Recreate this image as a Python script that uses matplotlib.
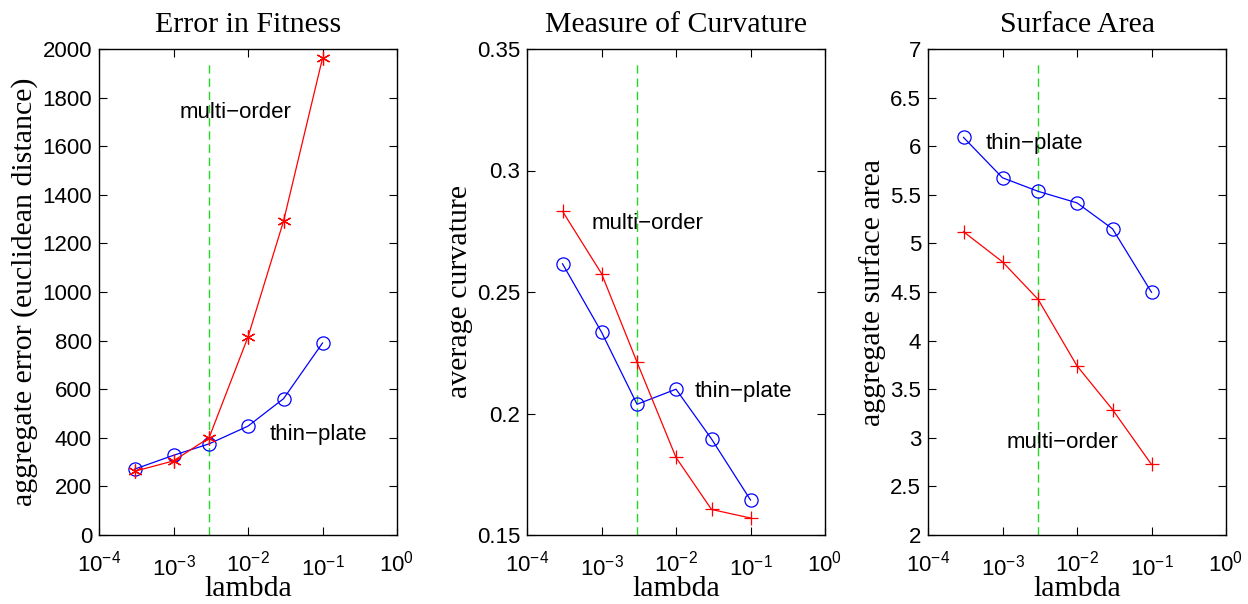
import numpy as np
import matplotlib
matplotlib.use('Agg')
import matplotlib.pyplot as plt
import matplotlib.transforms as mtransforms
from matplotlib.ticker import FormatStrFormatter, FixedLocator

plt.rcParams['mathtext.fontset'] = 'custom'
plt.rcParams['mathtext.rm'] = 'Liberation Sans'
plt.rcParams['mathtext.it'] = 'Liberation Sans'
plt.rcParams['mathtext.default'] = 'regular'

# lambda values shared by all panels
lam = [3e-4, 1e-3, 3e-3, 1e-2, 3e-2, 1e-1]
lam_sel = 3e-3

# Error in Fitness
err_multi = [262, 305, 400, 815, 1292, 1962]
err_thin = [271, 328, 375, 448, 561, 790]

# Measure of Curvature
curv_multi = [0.2832, 0.2576, 0.2211, 0.1819, 0.1605, 0.1570]
curv_thin = [0.2616, 0.2335, 0.2038, 0.2100, 0.1895, 0.1644]

# Surface Area
area_multi = [5.12, 4.81, 4.425, 3.74, 3.29, 2.726]
area_thin = [6.09, 5.675, 5.536, 5.417, 5.15, 4.497]

titles = ['Error in Fitness', 'Measure of Curvature', 'Surface Area']
ylabels = ['aggregate error (euclidean distance)', 'average curvature',
           'aggregate surface area']
ylims = [(0, 2000), (0.15, 0.35), (2, 7)]
yticks = [np.arange(0, 2001, 200), [0.15, 0.2, 0.25, 0.3, 0.35],
          [2, 2.5, 3, 3.5, 4, 4.5, 5, 5.5, 6, 6.5, 7]]
xtick_vals = [1e-4, 1e-3, 1e-2, 1e-1, 1]
xtick_labs = [r'$10^{-4}$', r'$10^{-3}$', r'$10^{-2}$', r'$10^{-1}$', r'$10^{0}$']
multi = [err_multi, curv_multi, area_multi]
thin = [err_thin, curv_thin, area_thin]
multi_marker = [(6, 2, 0), '+', '+']
# text positions (x, y) for labels
multi_txt = [(1.2e-3, 1738), (7.4e-4, 0.278), (1.14e-3, 2.956)]
thin_txt = [(1.97e-2, 414), (1.8e-2, 0.2089), (6.0e-4, 6.03)]

serif = 'Liberation Serif'
sans = 'Liberation Sans'

fig = plt.figure(figsize=(12.48, 6.04), dpi=100)
lefts = [99, 527, 928]
for i in range(3):
    ax = fig.add_axes([lefts[i] / 1248, 1 - 535 / 604, 298 / 1248, 486 / 604])
    ax.axvline(lam_sel, ymax=0.974, color='#22d822', lw=1, ls=(0, (6, 3.5)), zorder=1)
    ax.plot(lam, multi[i], color='red', lw=0.9, marker=multi_marker[i],
            ms=10, mew=0.9, zorder=3)
    ax.plot(lam, thin[i], color='blue', lw=0.9, marker='o', ms=9.5,
            mfc='none', mew=0.9, zorder=2)
    ax.set_xscale('log')
    ax.set_xlim(1e-4, 1)
    ax.set_ylim(*ylims[i])
    ax.xaxis.set_major_locator(FixedLocator(xtick_vals))
    ax.xaxis.set_minor_locator(FixedLocator([]))
    ax.set_xticklabels(xtick_labs)
    ax.set_yticks(yticks[i])
    ax.yaxis.set_major_formatter(FormatStrFormatter('%g'))
    ax.tick_params(direction='in', length=6, width=0.8, top=True, right=True,
                   labelsize=16)
    ax.tick_params(axis='y', pad=5)
    ax.tick_params(axis='x', pad=11)
    for lab in ax.get_xticklabels() + ax.get_yticklabels():
        lab.set_family(sans)
    # MATLAB staggers every other exponent label a little lower
    down = mtransforms.ScaledTranslation(0, -4 / 100, fig.dpi_scale_trans)
    for k in [1, 3]:
        lab = ax.get_xticklabels()[k]
        lab.set_transform(lab.get_transform() + down)
    for s in ax.spines.values():
        s.set_linewidth(1.0)
    ax.set_title(titles[i], fontsize=21.5, family=serif, pad=12)
    ax.set_xlabel('lambda', fontsize=21.5, family=serif, labelpad=-3)
    ax.set_ylabel(ylabels[i], fontsize=21.5, family=serif, labelpad=3)
    ax.text(multi_txt[i][0], multi_txt[i][1], 'multi\u2212order', fontsize=16,
            family=sans, ha='left', va='center')
    ax.text(thin_txt[i][0], thin_txt[i][1], 'thin\u2212plate', fontsize=16,
            family=sans, ha='left', va='center')

fig.savefig('out.png', dpi=100)
